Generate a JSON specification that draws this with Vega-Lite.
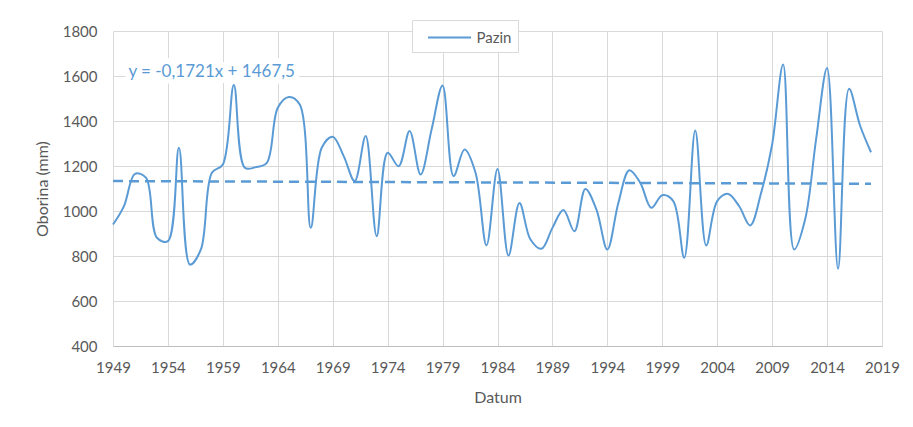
{
  "$schema": "https://vega.github.io/schema/vega-lite/v6.json",
  "width": 769,
  "height": 315,
  "autosize": {"type": "none"},
  "padding": {"left": 113, "top": 31, "right": 31, "bottom": 81},
  "background": "white",
  "config": {
    "font": "Lato",
    "view": {"stroke": null},
    "axis": {
      "labelColor": "#595959",
      "titleColor": "#595959",
      "labelFontSize": 15,
      "titleFontSize": 16,
      "labelFont": "Lato",
      "titleFont": "Lato",
      "titleFontWeight": "normal",
      "gridColor": "#d9d9d9",
      "gridWidth": 1,
      "domainColor": "#bfbfbf",
      "ticks": false,
      "labelFlush": false,
      "labelOverlap": false
    }
  },
  "datasets": {
    "rain": [
      {"year": 1949, "mm": 940}, {"year": 1950, "mm": 1022}, {"year": 1951, "mm": 1165},
      {"year": 1952, "mm": 1148}, {"year": 1953, "mm": 881}, {"year": 1954, "mm": 866},
      {"year": 1955, "mm": 1281}, {"year": 1956, "mm": 762}, {"year": 1957, "mm": 829},
      {"year": 1958, "mm": 1170}, {"year": 1959, "mm": 1207}, {"year": 1960, "mm": 1560},
      {"year": 1961, "mm": 1192}, {"year": 1962, "mm": 1195}, {"year": 1963, "mm": 1214},
      {"year": 1964, "mm": 1459}, {"year": 1965, "mm": 1507}, {"year": 1966, "mm": 1473},
      {"year": 1967, "mm": 925}, {"year": 1968, "mm": 1281}, {"year": 1969, "mm": 1330},
      {"year": 1970, "mm": 1244}, {"year": 1971, "mm": 1133}, {"year": 1972, "mm": 1333},
      {"year": 1973, "mm": 888}, {"year": 1974, "mm": 1259}, {"year": 1975, "mm": 1199},
      {"year": 1976, "mm": 1355}, {"year": 1977, "mm": 1162}, {"year": 1978, "mm": 1362},
      {"year": 1979, "mm": 1558}, {"year": 1980, "mm": 1155}, {"year": 1981, "mm": 1273},
      {"year": 1982, "mm": 1170}, {"year": 1983, "mm": 847}, {"year": 1984, "mm": 1187},
      {"year": 1985, "mm": 802}, {"year": 1986, "mm": 1036}, {"year": 1987, "mm": 873},
      {"year": 1988, "mm": 832}, {"year": 1989, "mm": 925}, {"year": 1990, "mm": 1004},
      {"year": 1991, "mm": 910}, {"year": 1992, "mm": 1098}, {"year": 1993, "mm": 1007},
      {"year": 1994, "mm": 829}, {"year": 1995, "mm": 1036}, {"year": 1996, "mm": 1181},
      {"year": 1997, "mm": 1125}, {"year": 1998, "mm": 1014}, {"year": 1999, "mm": 1070},
      {"year": 2000, "mm": 1044}, {"year": 2001, "mm": 792}, {"year": 2002, "mm": 1358},
      {"year": 2003, "mm": 847}, {"year": 2004, "mm": 1044}, {"year": 2005, "mm": 1076},
      {"year": 2006, "mm": 1021}, {"year": 2007, "mm": 936}, {"year": 2008, "mm": 1081},
      {"year": 2009, "mm": 1296}, {"year": 2010, "mm": 1651}, {"year": 2011, "mm": 829},
      {"year": 2012, "mm": 962}, {"year": 2013, "mm": 1318}, {"year": 2014, "mm": 1636},
      {"year": 2015, "mm": 743}, {"year": 2016, "mm": 1543}, {"year": 2017, "mm": 1380},
      {"year": 2018, "mm": 1261}
    ],
    "trend": [
      {"year": 1949, "mm": 1133}, {"year": 2018, "mm": 1121}
    ],
    "label": [
      {"year": 1950.4, "mm": 1616, "text": "y = -0,1721x + 1467,5"}
    ]
  },
  "layer": [
    {
      "data": {"name": "trend"},
      "mark": {"type": "line", "color": "#5b9bd5", "strokeWidth": 2.5, "strokeDash": [10, 6]},
      "encoding": {
        "x": {
          "field": "year", "type": "quantitative",
          "scale": {"domain": [1949, 2019], "nice": false, "zero": false},
          "axis": {
            "values": [1949, 1954, 1959, 1964, 1969, 1974, 1979, 1984, 1989, 1994, 1999, 2004, 2009, 2014, 2019],
            "format": "d", "title": "Datum", "labelPadding": 14, "titlePadding": 14, "grid": true
          }
        },
        "y": {
          "field": "mm", "type": "quantitative",
          "scale": {"domain": [400, 1800], "nice": false, "zero": false},
          "axis": {
            "values": [400, 600, 800, 1000, 1200, 1400, 1600, 1800],
            "format": "d",
            "title": "Oborina (mm)", "labelPadding": 16, "titlePadding": 12, "grid": true, "domain": false
          }
        }
      }
    },
    {
      "data": {"name": "rain"},
      "mark": {"type": "line", "strokeWidth": 2, "interpolate": "catmull-rom"},
      "encoding": {
        "x": {"field": "year", "type": "quantitative"},
        "y": {"field": "mm", "type": "quantitative"},
        "color": {
          "datum": "Pazin",
          "scale": {"range": ["#5b9bd5"]},
          "legend": {
            "title": null,
            "orient": "none",
            "legendX": 299,
            "legendY": -11,
            "direction": "horizontal",
            "fillColor": "white",
            "strokeColor": "#d9d9d9",
            "padding": 6.5,
            "symbolType": "M-0.15,0H4.15",
            "symbolSize": 400,
            "symbolStrokeWidth": 2,
            "labelFontSize": 15,
            "labelColor": "#595959",
            "labelFont": "Lato",
            "labelOffset": 36
          }
        }
      }
    },
    {
      "data": {"name": "label"},
      "mark": {"type": "text", "align": "left", "baseline": "middle", "fontSize": 17, "color": "white", "stroke": "white", "strokeWidth": 12, "font": "Lato"},
      "encoding": {
        "x": {"field": "year", "type": "quantitative"},
        "y": {"field": "mm", "type": "quantitative"},
        "text": {"field": "text"}
      }
    },
    {
      "data": {"name": "label"},
      "mark": {"type": "text", "align": "left", "baseline": "middle", "fontSize": 17, "color": "#5b9bd5", "font": "Lato"},
      "encoding": {
        "x": {"field": "year", "type": "quantitative"},
        "y": {"field": "mm", "type": "quantitative"},
        "text": {"field": "text"}
      }
    }
  ]
}
